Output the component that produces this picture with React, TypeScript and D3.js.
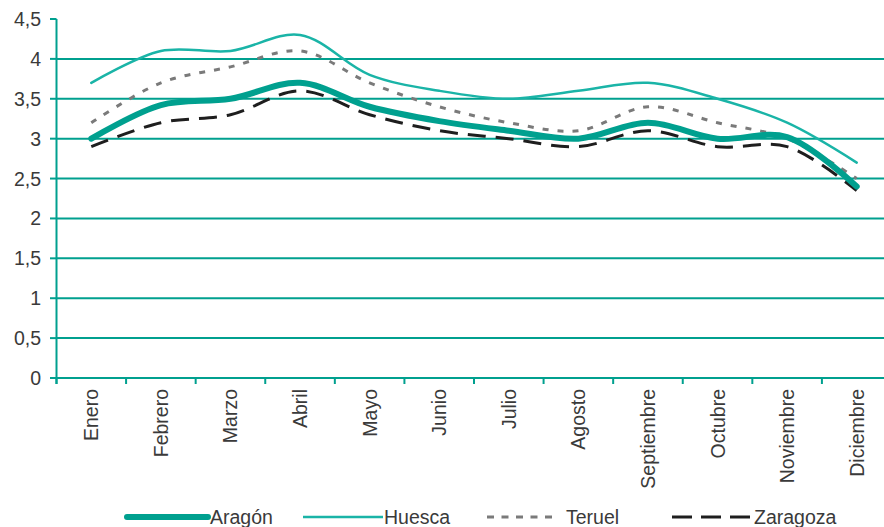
import React from "react";
import * as d3 from "d3";

const months = ["Enero","Febrero","Marzo","Abril","Mayo","Junio","Julio","Agosto","Septiembre","Octubre","Noviembre","Diciembre"];
const aragon = [3.0, 3.42, 3.5, 3.7, 3.4, 3.22, 3.1, 3.0, 3.2, 3.0, 3.02, 2.4];
const huesca = [3.7, 4.1, 4.1, 4.3, 3.8, 3.6, 3.5, 3.6, 3.7, 3.5, 3.2, 2.7];
const teruel = [3.2, 3.7, 3.9, 4.1, 3.7, 3.4, 3.2, 3.1, 3.4, 3.2, 3.0, 2.5];
const zaragoza = [2.9, 3.2, 3.3, 3.6, 3.3, 3.1, 3.0, 2.9, 3.1, 2.9, 2.9, 2.35];
const yTicks = [0, 0.5, 1, 1.5, 2, 2.5, 3, 3.5, 4, 4.5];
const gridTicks = [0.5, 1, 1.5, 2, 2.5, 3, 3.5, 4];

const W = 884, H = 527;
const FONT = "'Liberation Sans', Arial, Helvetica, sans-serif";
const TEAL = "#00a08f";
const TEAL_LIGHT = "#1ab4a7";

const series = [
  { name: "Aragón", values: aragon, color: TEAL, width: 6, dash: "" },
  { name: "Huesca", values: huesca, color: TEAL_LIGHT, width: 2.5, dash: "" },
  { name: "Teruel", values: teruel, color: "#7a7a7a", width: 3, dash: "6,9" },
  { name: "Zaragoza", values: zaragoza, color: "#1e1e1e", width: 3, dash: "18,10" },
];

export default function App() {
  const x = d3.scaleBand<string>().domain(months).range([56.5, 891.5]);
  const y = d3.scaleLinear().domain([0, 4.5]).range([378, 19]);
  const line = d3
    .line<number>()
    .x((_, i) => (x(months[i]) as number) + x.bandwidth() / 2)
    .y((d) => y(d))
    .curve(d3.curveCatmullRom.alpha(0.5));

  const legend = [
    { s: series[0], x1: 127, x2: 208, tx: 210 },
    { s: series[1], x1: 303, x2: 383, tx: 384 },
    { s: series[2], x1: 487, x2: 558, tx: 566 },
    { s: series[3], x1: 672, x2: 750, tx: 754 },
  ];

  return (
    <svg width={W} height={H} style={{ position: "absolute", left: 0, top: 0, background: "#fff" }} fontFamily={FONT}>
      {gridTicks.map((t) => (
        <line key={"g" + t} x1={56.5} x2={W} y1={y(t)} y2={y(t)} stroke={TEAL} strokeWidth={2} />
      ))}
      {/* axes */}
      <line x1={56.5} x2={W} y1={y(0)} y2={y(0)} stroke={TEAL} strokeWidth={2} />
      <line x1={56.5} x2={56.5} y1={y(4.5)} y2={384} stroke={TEAL} strokeWidth={2} />
      {yTicks.map((t) => (
        <g key={"y" + t}>
          <line x1={50} x2={56.5} y1={y(t)} y2={y(t)} stroke={TEAL} strokeWidth={2} />
          <text x={41} y={y(t)} dy="0.36em" textAnchor="end" fontSize={19.5} fill="#3a3a3a">
            {String(t).replace(".", ",")}
          </text>
        </g>
      ))}
      {months.map((m) => (
        <g key={m}>
          <line x1={x(m) as number} x2={x(m) as number} y1={y(0)} y2={384} stroke={TEAL} strokeWidth={2} />
          <text
            transform={`translate(${(x(m) as number) + x.bandwidth() / 2},389) rotate(-90)`}
            textAnchor="end"
            dy="0.36em"
            fontSize={19.5}
            fill="#3a3a3a"
          >
            {m}
          </text>
        </g>
      ))}
      {[...series].reverse().map((s) => (
        <path
          key={s.name}
          d={line(s.values) as string}
          fill="none"
          stroke={s.color}
          strokeWidth={s.width}
          strokeDasharray={s.dash || undefined}
          strokeLinecap={s.dash ? "butt" : "round"}
        />
      ))}
      {legend.map((l) => (
        <g key={"l" + l.s.name}>
          <line
            x1={l.x1}
            x2={l.x2}
            y1={517}
            y2={517}
            stroke={l.s.color}
            strokeWidth={l.s.width}
            strokeDasharray={l.s.name === "Teruel" ? "7,7.5" : l.s.name === "Zaragoza" ? "20,9" : undefined}
            strokeLinecap={l.s.name === "Aragón" ? "round" : "butt"}
          />
          <text x={l.tx} y={524} fontSize={19.5} fill="#3a3a3a">
            {l.s.name}
          </text>
        </g>
      ))}
    </svg>
  );
}
